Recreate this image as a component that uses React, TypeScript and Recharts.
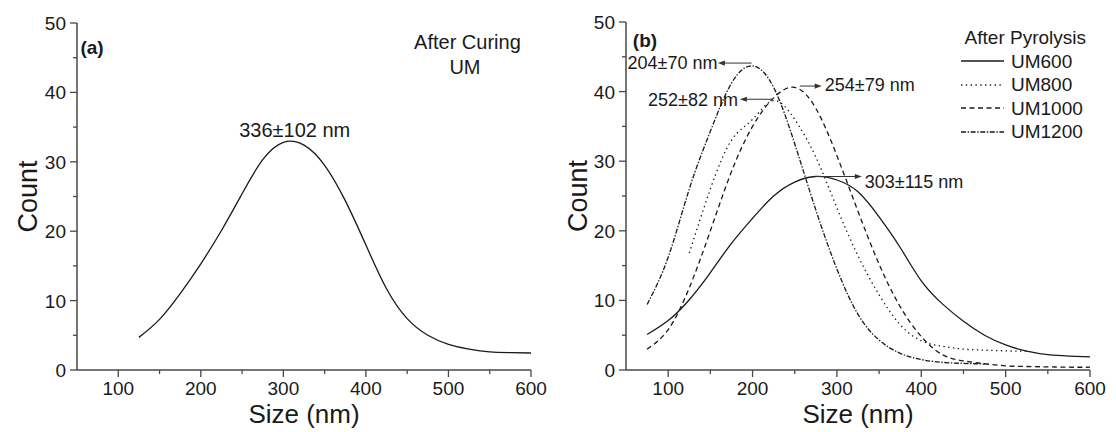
import React from "react";
import { LineChart, Line, XAxis, YAxis, ReferenceDot, ReferenceLine, Legend } from "recharts";

const FONT = "'Liberation Sans', Arial, sans-serif";
const INK = "#1a1a1a";
const FRAME = "#484848";

const xTicks = [100, 150, 200, 250, 300, 350, 400, 450, 500, 550, 600];
const yTicks = [0, 5, 10, 15, 20, 25, 30, 35, 40, 45, 50];

// panel (a): after curing
const sizesA = [125, 150, 175, 200, 225, 250, 275, 300, 325, 350, 375, 400, 425, 450, 475, 500, 525, 550, 575, 600];
const countsA = [4.7, 7.3, 11.0, 15.3, 20.1, 25.4, 30.3, 32.8, 32.4, 29.5, 24.4, 18.0, 11.7, 7.4, 5.0, 3.7, 3.0, 2.6, 2.5, 2.45];

// panel (b): after pyrolysis
const sizesB = [75, 100, 125, 150, 175, 200, 225, 250, 275, 300, 325, 350, 375, 400, 425, 450, 475, 500, 525, 550, 575, 600];
const um600 = [5.1, 7.1, 10.1, 14.0, 18.2, 21.8, 25.0, 27.0, 27.8, 27.3, 25.6, 22.0, 17.6, 12.8, 9.5, 7.0, 5.0, 3.6, 2.7, 2.2, 2.0, 1.9];
const um800 = [null, null, 16.8, 26.0, 33.0, 36.0, 38.7, 36.0, 30.6, 23.3, 16.4, 10.8, 6.5, 4.2, 3.4, 3.0, 2.85, 2.75, 2.7, null, null, null];
const um1000 = [3.0, 5.8, 11.8, 20.0, 28.5, 35.0, 39.1, 40.6, 37.6, 30.8, 22.8, 15.2, 9.1, 4.8, 2.2, 1.3, 0.9, 0.6, 0.5, 0.45, 0.4, 0.4];
const um1200 = [9.4, 16.2, 26.0, 34.3, 41.2, 43.7, 40.6, 32.5, 23.0, 14.5, 8.0, 4.3, 2.4, 1.5, 1.1, 0.95, 0.85, null, null, null, null, null];

const toPoints = (xs: number[], ys: (number | null)[]) => xs.map((x, i) => ({ x, y: ys[i] }));

const dataA = toPoints(sizesA, countsA);
const seriesB = [
  { name: "UM600", data: toPoints(sizesB, um600), dash: undefined as string | undefined },
  { name: "UM800", data: toPoints(sizesB, um800), dash: "1.4 3.4" },
  { name: "UM1000", data: toPoints(sizesB, um1000), dash: "5 3.5" },
  { name: "UM1200", data: toPoints(sizesB, um1200), dash: "5 1.6 1.4 1.6" },
];

const XTick = (p: any) => {
  const major = p.payload.value % 100 === 0;
  return (
    <g>
      <line x1={p.x} x2={p.x} y1={p.y} y2={p.y + (major ? 7 : 4)} stroke={FRAME} strokeWidth={1.3} />
      {major && (
        <text x={p.x} y={p.y + 25} textAnchor="middle" fontSize={19} fill={INK} fontFamily={FONT}>
          {p.payload.value}
        </text>
      )}
    </g>
  );
};

const YTick = (p: any) => {
  const major = p.payload.value % 10 === 0;
  return (
    <g>
      <line x1={p.x} x2={p.x - (major ? 7 : 4)} y1={p.y} y2={p.y} stroke={FRAME} strokeWidth={1.3} />
      {major && (
        <text x={p.x - 11} y={p.y + 7} textAnchor="end" fontSize={19} fill={INK} fontFamily={FONT}>
          {p.payload.value}
        </text>
      )}
    </g>
  );
};

const Arrow = (p: any) => {
  const { x1, y1, x2, y2 } = p;
  const d = Math.sign(x2 - x1);
  return (
    <g>
      <line x1={x1} y1={y1} x2={x2 - d * 5} y2={y2} stroke="#333" strokeWidth={1} />
      <polygon points={`${x2},${y2} ${x2 - d * 7},${y2 - 2.6} ${x2 - d * 7},${y2 + 2.6}`} fill="#333" />
    </g>
  );
};

const note = (key: string, x: number, y: number, text: string, position: string, size = 18, bold = false) => (
  <ReferenceDot
    key={key}
    x={x}
    y={y}
    r={0}
    fill="none"
    stroke="none"
    label={{ value: text, position, offset: 0, fill: INK, fontSize: size, fontFamily: FONT, fontWeight: bold ? 700 : 400 }}
  />
);

const arrow = (key: string, x1: number, x2: number, y: number) => (
  <ReferenceLine key={key} segment={[{ x: x1, y }, { x: x2, y }]} shape={Arrow} />
);

// top and right frame lines
const frameAxes = [
  <XAxis key="top" xAxisId="top" orientation="top" type="number" domain={[50, 600]} height={0} tick={false} tickLine={false} axisLine={{ stroke: FRAME, strokeWidth: 1.5 }} />,
  <YAxis key="right" yAxisId="right" orientation="right" type="number" domain={[0, 50]} width={0} tick={false} tickLine={false} axisLine={{ stroke: FRAME, strokeWidth: 1.5 }} />,
];

const axisTitle = { fontSize: 26, fill: INK, fontFamily: FONT };

const bottomAxis = (
  <XAxis
    type="number"
    dataKey="x"
    domain={[50, 600]}
    ticks={xTicks}
    interval={0}
    allowDataOverflow
    height={62}
    tickSize={0}
    tickMargin={0}
    tickLine={false}
    tick={(p: any) => <XTick {...p} />}
    axisLine={{ stroke: FRAME, strokeWidth: 1.5 }}
    label={{ value: "Size (nm)", position: "insideBottom", offset: 9, style: axisTitle }}
  />
);

const leftAxis = (width: number, offset: number) => (
  <YAxis
    type="number"
    domain={[0, 50]}
    ticks={yTicks}
    interval={0}
    width={width}
    tickSize={0}
    tickMargin={0}
    tickLine={false}
    tick={(p: any) => <YTick {...p} />}
    axisLine={{ stroke: FRAME, strokeWidth: 1.5 }}
    label={{ value: "Count", angle: -90, position: "insideLeft", offset, style: { ...axisTitle, fontSize: 27, textAnchor: "middle" } }}
  />
);

const LegendBox = () => (
  <div style={{ fontFamily: FONT, fontSize: 19, color: INK, lineHeight: "23.5px", width: 125 }}>
    <div style={{ textAlign: "right" }}>After Pyrolysis</div>
    {seriesB.map((s) => (
      <div key={s.name} style={{ display: "flex", alignItems: "center", height: 23.5 }}>
        <svg width={43} height={10} style={{ marginRight: 7 }}>
          <line x1={0} x2={43} y1={5} y2={5} stroke={INK} strokeWidth={1.3} strokeDasharray={s.dash} />
        </svg>
        <span>{s.name}</span>
      </div>
    ))}
  </div>
);

export default function App() {
  return (
    <div style={{ position: "absolute", left: 0, top: 0, width: 1116, height: 432, background: "#fff" }}>
      <div style={{ position: "absolute", left: 0, top: 0 }}>
        <LineChart width={556} height={432} margin={{ top: 23, right: 25, bottom: 0, left: 0 }}>
          {bottomAxis}
          {leftAxis(77, 27)}
          {frameAxes}
          <Line data={dataA} dataKey="y" type="natural" stroke={INK} strokeWidth={1.3} dot={false} activeDot={false} isAnimationActive={false} />
          {note("a", 54.2, 46.5, "(a)", "right", 19, true)}
          {note("cur1", 523, 47.3, "After Curing", "center", 20)}
          {note("cur2", 520, 43.7, "UM", "center", 20)}
          {note("pk", 313.8, 34.6, "336±102 nm", "center", 20)}
        </LineChart>
      </div>
      <div style={{ position: "absolute", left: 556, top: 0 }}>
        <LineChart width={560} height={432} margin={{ top: 22, right: 26, bottom: 0, left: 0 }}>
          {bottomAxis}
          {leftAxis(70, 21)}
          {frameAxes}
          {seriesB.map((s) => (
            <Line
              key={s.name}
              name={s.name}
              data={s.data}
              dataKey="y"
              type="natural"
              stroke={INK}
              strokeWidth={1.3}
              strokeDasharray={s.dash}
              dot={false}
              activeDot={false}
              isAnimationActive={false}
            />
          ))}
          <Legend
            layout="vertical"
            align="center"
            verticalAlign="middle"
            content={() => <LegendBox />}
            wrapperStyle={{ left: 405, top: 26, width: 125, height: "auto" }}
          />
          {note("b", 58.1, 47.4, "(b)", "right", 19, true)}
          {arrow("a204", 198.9, 158.9, 44.1)}
          {note("t204", 158.5, 44.2, "204±70 nm", "left", 18)}
          {arrow("a252", 224.1, 185, 38.9)}
          {note("t252", 182.8, 38.8, "252±82 nm", "left", 18)}
          {arrow("a254", 256, 282, 40.8)}
          {note("t254", 285.6, 41.0, "254±79 nm", "right", 18)}
          {arrow("a303", 274, 329.5, 27.8)}
          {note("t303", 333, 27.0, "303±115 nm", "right", 18)}
        </LineChart>
      </div>
    </div>
  );
}
